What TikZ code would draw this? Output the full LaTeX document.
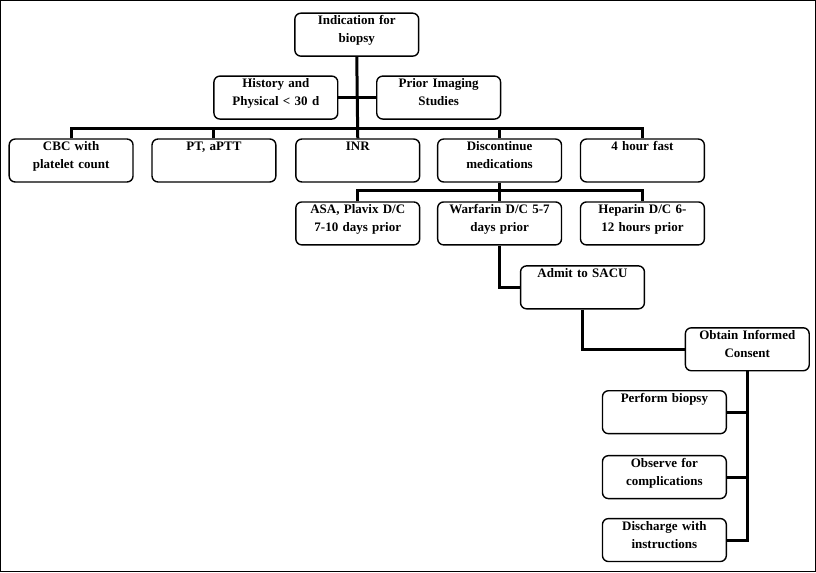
\documentclass[tikz,border=0pt]{standalone}
\usepackage{fontspec}
\setmainfont{Liberation Serif}
\begin{document}
\begin{tikzpicture}[x=1pt,y=-1pt,
  box/.style={draw,line width=1.4pt,rounded corners=6pt,minimum width=124pt,minimum height=43pt,
    anchor=north west,align=center,inner sep=2pt,font=\fontsize{13}{18}\selectfont\bfseries,
    text width=120pt},
  con/.style={line width=3pt}]
\draw[line width=1pt,fill=white] (0,0) rectangle (816,572);
\useasboundingbox (0,0) rectangle (816,572);
\newcommand{\bx}[4]{\node[box] (#1) at (#2,#3) {\vbox to 36pt{\vskip-1pt #4\vfil}};}
\bx{ind}{294}{12}{Indication for\\biopsy}
\bx{hist}{213}{75}{History and\\Physical < 30 d}
\bx{prior}{376}{75}{Prior Imaging\\Studies}
\bx{cbc}{8}{138}{CBC with\\platelet count}
\bx{pt}{151}{138}{PT, aPTT}
\bx{inr}{295}{138}{INR}
\bx{disc}{437}{138}{Discontinue\\medications}
\bx{fast}{580}{138}{4 hour fast}
\bx{asa}{295}{201}{ASA, Plavix D/C\\7-10 days prior}
\bx{warf}{437}{201}{Warfarin D/C 5-7\\days prior}
\bx{hep}{580}{201}{Heparin D/C 6-\\12 hours prior}
\bx{sacu}{520}{265}{Admit to SACU}
\bx{cons}{685}{327}{Obtain Informed\\Consent}
\bx{perf}{602}{390}{Perform biopsy}
\bx{obs}{602}{455}{Observe for\\complications}
\bx{dis}{602}{518}{Discharge with\\instructions}
\coordinate (b1) at (356,128);
\draw[con] (ind.south) -- (inr.north);
\draw[con] (hist.east) -- (prior.west);
\draw[con] (cbc.north) |- (b1) -| (fast.north);
\draw[con] (pt.north) -- ++(0,-10);
\draw[con] (disc.north) -- ++(0,-10);
\coordinate (b2) at (499,190);
\draw[con] (disc.south) -- (warf.north);
\draw[con] (asa.north) |- (b2) -| (hep.north);
\draw[con] (warf.south) |- (sacu.west);
\draw[con] (sacu.south) |- (cons.west);
\draw[con] (cons.south) |- (dis.east);
\draw[con] (perf.east) -- (perf.east -| cons.south);
\draw[con] (obs.east) -- (obs.east -| cons.south);
\end{tikzpicture}
\end{document}
